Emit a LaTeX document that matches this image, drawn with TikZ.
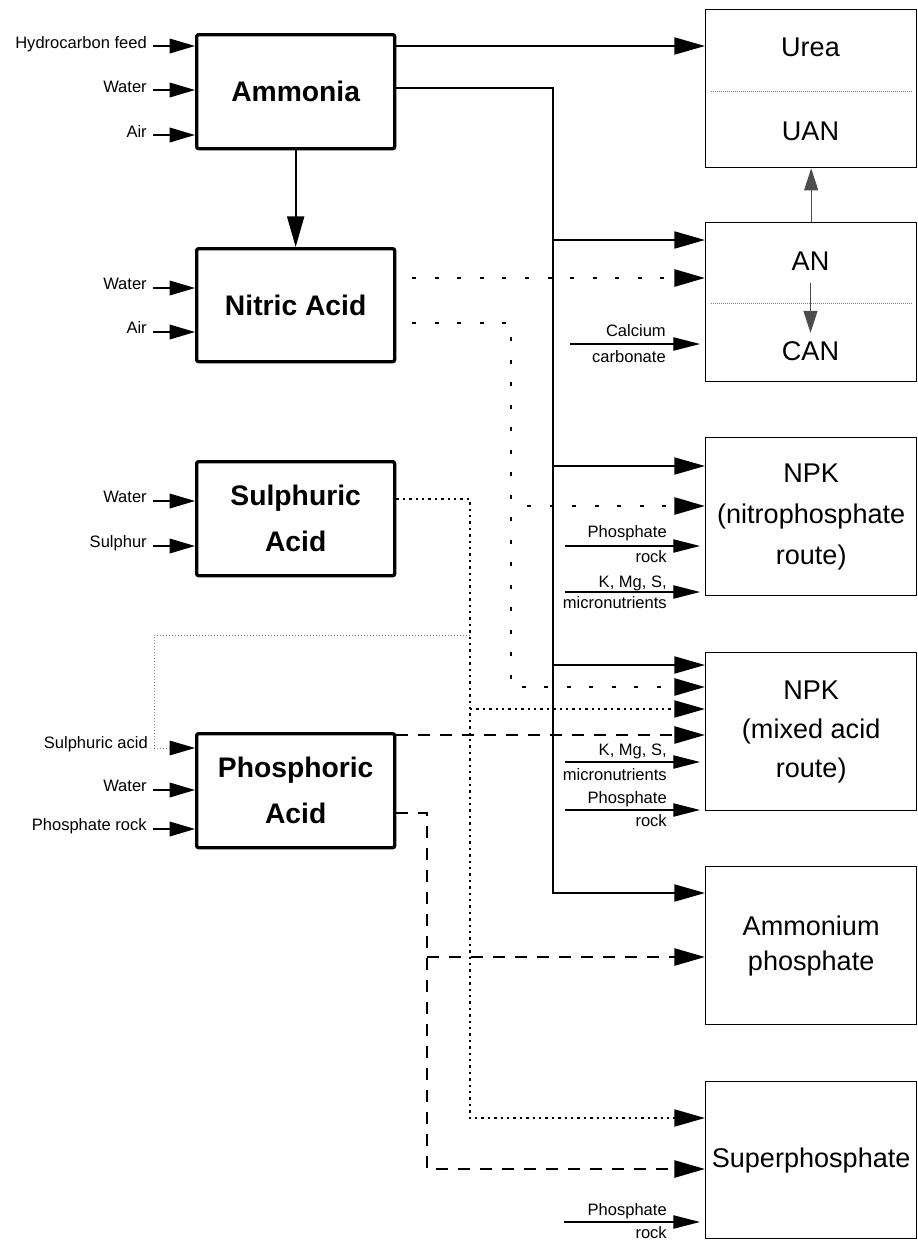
\documentclass[tikz,border=0pt]{standalone}
\usepackage{fontspec}
\setmainfont{Liberation Sans}
\usetikzlibrary{arrows.meta,calc}
\tikzset{
  bigtip/.tip={Triangle[length=23pt,width=12.75pt]},
  intip/.tip={Triangle[length=19pt,width=11pt]},
  labtip/.tip={Triangle[length=20pt,width=10pt]},
  midtip/.tip={Triangle[length=16.5pt,width=10.5pt]},
}
\begin{document}
\begin{tikzpicture}[x=0.75pt,y=-0.75pt,
  proc/.style={draw, line width=2.5pt, rounded corners=1.5pt, inner sep=0pt,
    minimum width=148.5pt, minimum height=85.5pt, align=center, anchor=north west,
    font=\bfseries\fontsize{21.2}{34.5}\selectfont},
  prod/.style={draw, line width=1pt, inner sep=0pt, minimum width=158.25pt,
    minimum height=118.5pt, align=center, anchor=north west,
    font=\fontsize{20.3}{30.8}\selectfont},
  big/.style={font=\fontsize{20.3}{30.8}\selectfont, inner sep=0pt, anchor=base},
  inlab/.style={font=\fontsize{12.4}{14}\selectfont, inner xsep=4.5pt, inner ysep=0pt, anchor=base east},
  sidelab/.style={font=\fontsize{12.4}{14}\selectfont, inner sep=0pt, anchor=base east},
  flow/.style={line width=1.5pt, -{bigtip}},
  ndot/.style={line width=2pt, dash pattern=on 3pt off 13.9pt, dash phase=-12pt, -{bigtip}},
  sdot/.style={line width=1.5pt, dash pattern=on 1.8pt off 3pt, -{bigtip}},
  pdash/.style={line width=2pt, dash pattern=on 9pt off 7.5pt, -{bigtip}},
  fine/.style={line width=0.75pt, gray, dash pattern=on 0.75pt off 1.5pt},
  inarrow/.style={line width=1pt, -{intip}},
  labarrow/.style={line width=0.9pt, -{labtip}, shorten >=3.75pt},
  intarrow/.style={line width=0.9pt, black!70, -{midtip}},
  divider/.style={gray, line width=0.6pt, dash pattern=on 0.6pt off 0.9pt},
]
\useasboundingbox (0,0) rectangle (918,1240);

% process boxes
\node[proc] (ammonia) at (195,33) {Ammonia};
\node[proc, minimum height=84.75pt] (nitric) at (195,247) {Nitric Acid};
\node[proc] (sulph) at (195,460) {Sulphuric\\Acid};
\node[proc] (phos) at (195,732) {Phosphoric\\Acid};

% product boxes
\node[prod] (ureabox) at (705,9) {};
\node[prod, minimum height=119.25pt] (anbox) at (705,222) {};
\node[prod] (npkn) at (705,437) {NPK\\(nitrophosphate\\route)};
\node[prod, font=\fontsize{20.3}{29.25}\selectfont] (npkm) at (705,652) {NPK\\(mixed acid\\route)};
\node[prod, font=\fontsize{20.3}{26.25}\selectfont] (ammphos) at (705,866) {Ammonium\\phosphate};
\node[prod, minimum height=117.75pt] (superb) at (705,1081) {Superphosphate};

\node[big] (urea) at (810.5,56.7) {Urea};
\node[big] (uan) at (810.5,140.7) {UAN};
\node[big] (an) at (810.5,270.7) {AN};
\node[big] (can) at (810.5,360) {CAN};
\draw[divider] (711,91) -- (912,91);
\draw[divider] (711,303) -- (912,303);
\draw[intarrow] (anbox.north) -- (ureabox.south);
\draw[intarrow] ($(an.base)+(0,12)$) -- ($(can.north)+(0,-8)$);

% left inputs
\node[inlab] (a1) at (153,48) {Hydrocarbon feed};
\node[inlab] (a2) at (153,92) {Water};
\node[inlab] (a3) at (153,137) {Air};
\draw[inarrow] (a1.east |- 0,46) -- (ammonia.west |- 0,46);
\draw[inarrow] (a2.east |- 0,90) -- (ammonia.west |- 0,90);
\draw[inarrow] (a3.east |- 0,135) -- (ammonia.west |- 0,135);

\node[inlab] (b1) at (153,289.5) {Water};
\node[inlab] (b2) at (153,333.5) {Air};
\draw[inarrow] (b1.east |- 0,288) -- (nitric.west |- 0,288);
\draw[inarrow] (b2.east |- 0,332) -- (nitric.west |- 0,332);

\node[inlab] (c1) at (153,502) {Water};
\node[inlab] (c2) at (153,547.5) {Sulphur};
\draw[inarrow] (c1.east |- 0,501) -- (sulph.west |- 0,501);
\draw[inarrow] (c2.east |- 0,546) -- (sulph.west |- 0,546);

\node[inlab] (sa) at (154,748) {Sulphuric acid};
\node[inlab] (d2) at (153,791.5) {Water};
\node[inlab] (d3) at (153,830.5) {Phosphate rock};
\draw[inarrow] (d2.east |- 0,790) -- (phos.west |- 0,790);
\draw[inarrow] (d3.east |- 0,829) -- (phos.west |- 0,829);

% Ammonia outputs
\coordinate (t0) at (553,88);
\coordinate (t1) at (553,240);
\coordinate (t2) at (553,466);
\coordinate (t3) at (553,665);
\coordinate (t4) at (553,893);
\draw[flow] (ammonia.east |- 0,46) -- (ureabox.west |- 0,46);
\draw[flow] (ammonia.east |- t0) -- (t0) -- (t4) -- (ammphos.west |- t4);
\draw[flow] (t1) -- (anbox.west |- t1);
\draw[flow] (t2) -- (npkn.west |- t2);
\draw[flow] (t3) -- (npkm.west |- t3);
\draw[flow] (ammonia.south) -- (nitric.north);

% Nitric acid outputs
\coordinate (n0) at (511,323);
\coordinate (n1) at (511,506);
\coordinate (n2) at (511,687);
\draw[ndot] (nitric.east |- 0,278) -- (anbox.west |- 0,278);
\draw[ndot] (nitric.east |- n0) -- (n0) -- (n2) -- (npkm.west |- n2);
\draw[ndot] (n1) -- (npkn.west |- n1);

% Sulphuric acid outputs
\coordinate (s0) at (470,499);
\coordinate (s1) at (470,635);
\coordinate (s2) at (470,709);
\coordinate (s3) at (470,1118);
\draw[sdot] (sulph.east |- s0) -- (s0) -- (s3) -- (superb.west |- s3);
\draw[sdot] (s2) -- (npkm.west |- s2);
\draw[fine, -{Triangle[length=19pt,width=11pt,color=black]}] (s1) -- (sa.east |- s1) -- (sa.east |- 0,748) -- (phos.west |- 0,748);

% Phosphoric acid outputs
\coordinate (p0) at (427,813);
\coordinate (p1) at (427,957);
\coordinate (p2) at (427,1169);
\draw[pdash] (phos.east |- 0,735) -- (npkm.west |- 0,735);
\draw[pdash] (phos.east |- p0) -- (p0) -- (p2) -- (superb.west |- p2);
\draw[pdash] (p1) -- (ammphos.west |- p1);

% side inputs on the right
\node[sidelab] (e1) at (666,336) {Calcium};
\node[sidelab] (e2) at (666,362.7) {carbonate};
\coordinate (e) at (570,344);
\draw[labarrow] (e) -- (anbox.west |- e);

\node[sidelab] (f1) at (667,537.7) {Phosphate};
\node[sidelab] (f2) at (667,562.7) {rock};
\coordinate (f) at (565,546);
\draw[labarrow] (f) -- (npkn.west |- f);

\node[sidelab] (g1) at (667,587.3) {K, Mg, S,};
\node[sidelab] (g2) at (667,608.3) {micronutrients};
\coordinate (g) at (565,592);
\draw[labarrow] (g) -- (npkn.west |- g);

\node[sidelab] (h1) at (667,755) {K, Mg, S,};
\node[sidelab] (h2) at (667,780.5) {micronutrients};
\coordinate (h) at (565,762);
\draw[labarrow] (h) -- (npkm.west |- h);

\node[sidelab] (i1) at (667,803.3) {Phosphate};
\node[sidelab] (i2) at (667,826) {rock};
\coordinate (i) at (565,810);
\draw[labarrow] (i) -- (npkm.west |- i);

\node[sidelab] (j1) at (667,1215.7) {Phosphate};
\node[sidelab] (j2) at (667,1238.5) {rock};
\coordinate (j) at (564,1222);
\draw[labarrow] (j) -- (superb.west |- j);
\end{tikzpicture}
\end{document}
